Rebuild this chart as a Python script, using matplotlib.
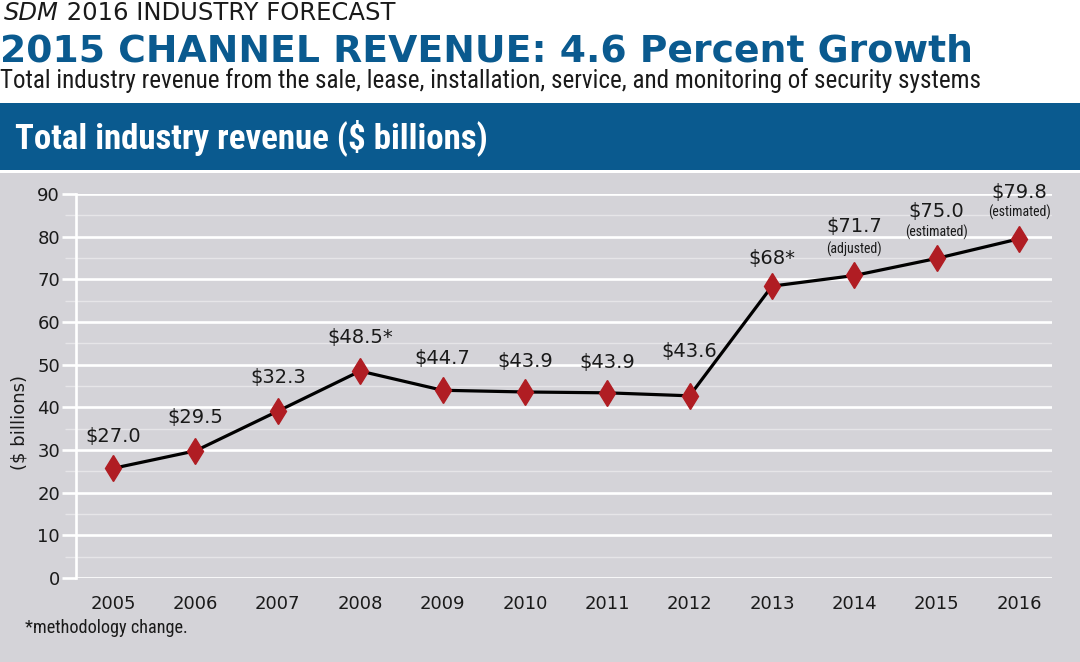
import matplotlib.pyplot as plt
from matplotlib import font_manager
from matplotlib.patches import Rectangle
from matplotlib.ticker import MultipleLocator

# data
years = ['2005', '2006', '2007', '2008', '2009', '2010',
         '2011', '2012', '2013', '2014', '2015', '2016']
revenue = [25.7, 29.8, 39.1, 48.5, 44.0, 43.6, 43.4, 42.7, 68.4, 70.9, 74.9, 79.5]
value_labels = ['$27.0', '$29.5', '$32.3', '$48.5*', '$44.7', '$43.9',
                '$43.9', '$43.6', '$68*', '$71.7', '$75.0', '$79.8']
value_notes = ['', '', '', '', '', '', '', '', '', '(adjusted)', '(estimated)', '(estimated)']

# label placement (points above marker): main label, note
label_dy = [23, 24, 24, 24, 23, 22, 22, 32, 20, 35, 34, 33]
note_dy = 19

BLUE = '#0a5a8f'
GRAY = '#d4d3d8'
RED = '#b01d23'

# pick a condensed face if one is installed
installed = {f.name for f in font_manager.fontManager.ttflist}
narrow_face = next((n for n in ['Liberation Sans Narrow', 'DejaVu Sans Condensed',
                                'Roboto Condensed', 'Liberation Sans']
                    if n in installed), 'DejaVu Sans')
NARROW = [narrow_face, 'DejaVu Sans']

fig = plt.figure(figsize=(10.8, 6.62), dpi=100)
fig.patch.set_facecolor('white')

# background panels
fig.add_artist(Rectangle((0, 0), 1, 1 - 173 / 662, transform=fig.transFigure,
                         facecolor=GRAY, edgecolor='none', zorder=-10))
fig.add_artist(Rectangle((0, 1 - 170 / 662), 1, 67 / 662, transform=fig.transFigure,
                         facecolor=BLUE, edgecolor='none', zorder=-10))

# header texts
t1 = fig.text(0.004, 1 - 20 / 662, 'SDM', fontsize=17.5, style='italic',
              color='#1a1a1a', va='baseline', ha='left')
title = fig.text(0.0, 1 - 62 / 662, '2015 CHANNEL REVENUE: 4.6 Percent Growth',
                 fontsize=25, fontweight='bold', color=BLUE, va='baseline', ha='left')
sub = fig.text(0.0, 1 - 88 / 662,
               'Total industry revenue from the sale, lease, installation, service, '
               'and monitoring of security systems',
               fontsize=17, family=NARROW, color='#1a1a1a', va='baseline', ha='left')
band = fig.text(15 / 1080, 1 - 148 / 662, 'Total industry revenue ($ billions)',
                fontsize=22, fontweight='bold', family=NARROW, color='white',
                va='baseline', ha='left')

ax = fig.add_axes([76 / 1080, 1 - 578 / 662, (1052 - 76) / 1080, (578 - 194) / 662])
ax.set_facecolor('none')
t2 = ax.annotate(' 2016 INDUSTRY FORECAST', xy=(1, 0), xycoords=t1, fontsize=17.5,
                 color='#1a1a1a', va='bottom', ha='left', annotation_clip=False)

x = list(range(len(years)))
ax.plot(x, revenue, color='black', lw=2.3, zorder=3, clip_on=False)
ax.plot(x, revenue, ls='none', marker='d', ms=13, color=RED,
        markeredgecolor=RED, zorder=4, clip_on=False)

for i, (lab, note) in enumerate(zip(value_labels, value_notes)):
    ax.annotate(lab, (x[i], revenue[i]), xytext=(0, label_dy[i]),
                textcoords='offset points', ha='center', va='center',
                fontsize=14, color='#1a1a1a', annotation_clip=False)
    if note:
        ax.annotate(note, (x[i], revenue[i]), xytext=(0, note_dy),
                    textcoords='offset points', ha='center', va='center',
                    fontsize=10, family=NARROW, color='#1a1a1a', annotation_clip=False)

ax.set_xlim(-0.45, 11.4)
ax.set_ylim(0, 90)
ax.set_xticks(x)
ax.set_xticklabels(years)
ax.yaxis.set_major_locator(MultipleLocator(10))
ax.yaxis.set_minor_locator(MultipleLocator(5))

ax.grid(axis='y', which='major', color='white', lw=1.9, zorder=0)
ax.grid(axis='y', which='minor', color='#e6e5e8', lw=1.0, zorder=0)
ax.tick_params(axis='y', which='major', length=10, width=1.9, color='white',
               pad=1.5, labelsize=13, labelcolor='#1a1a1a')
ax.tick_params(axis='y', which='minor', length=8, width=1.0, color='#e6e5e8')
ax.tick_params(axis='x', length=0, pad=12, labelsize=13, labelcolor='#1a1a1a')

for side in ['top', 'right', 'bottom']:
    ax.spines[side].set_visible(False)
ax.spines['left'].set_color('white')
ax.spines['left'].set_linewidth(1.9)

fig.text(20 / 1080, 1 - 423 / 662, '($ billions)', rotation=90, fontsize=13,
         color='#1a1a1a', ha='center', va='center')
foot = fig.text(25 / 1080, 1 - 633 / 662, '*methodology change.', fontsize=11.5,
                family=NARROW, color='#1a1a1a', ha='left', va='baseline')


# scale header texts so their widths match the reference
def fit(texts, target_px):
    fig.canvas.draw()
    r = fig.canvas.get_renderer()
    bbs = [t.get_window_extent(r) for t in texts]
    w = max(b.x1 for b in bbs) - min(b.x0 for b in bbs)
    for t in texts:
        t.set_fontsize(t.get_fontsize() * target_px / w)


fit([title], 975)
fit([sub], 982)
fit([band], 473)
fit([foot], 163)

fig.savefig('out.png', dpi=100)
